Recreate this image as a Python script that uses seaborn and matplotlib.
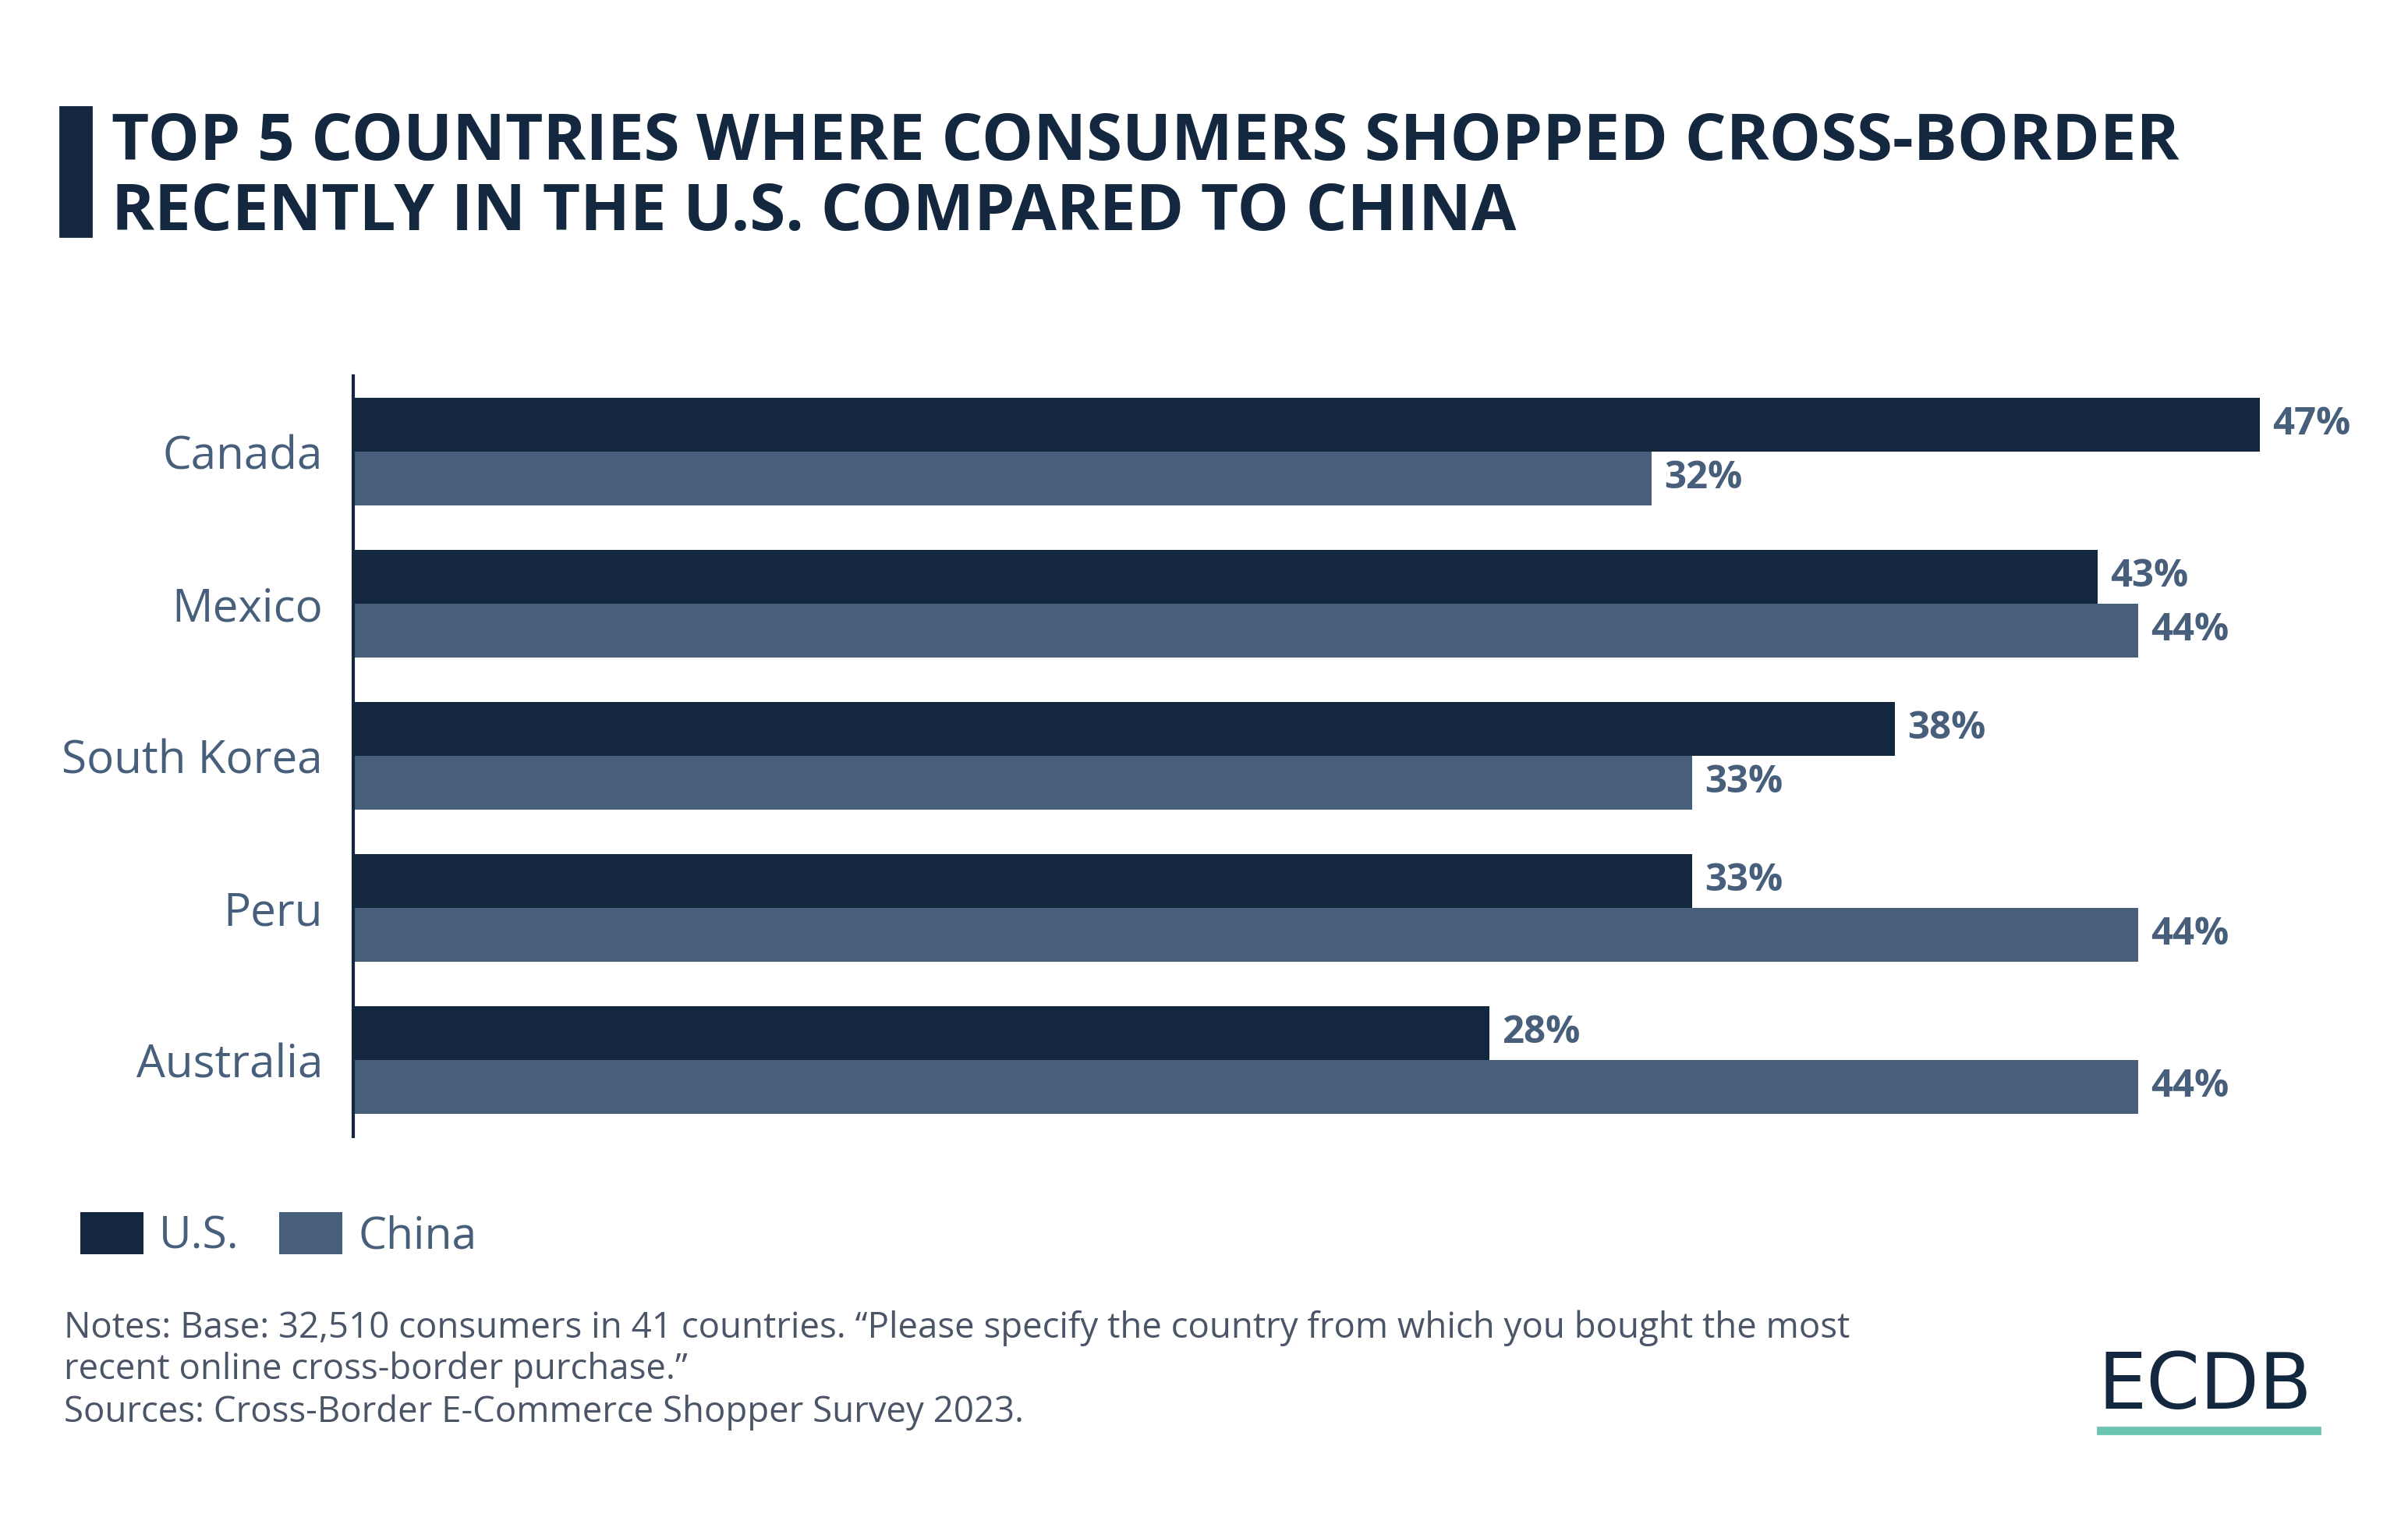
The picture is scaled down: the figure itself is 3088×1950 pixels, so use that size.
import matplotlib
matplotlib.use("Agg")
import matplotlib.pyplot as plt
import seaborn as sns
import pandas as pd
from matplotlib.patches import Rectangle

countries = ["Canada", "Mexico", "South Korea", "Peru", "Australia"]
us_values = [47, 43, 38, 33, 28]
china_values = [32, 44, 33, 44, 44]
series_names = ["U.S.", "China"]

title_lines = ["TOP 5 COUNTRIES WHERE CONSUMERS SHOPPED CROSS-BORDER",
               "RECENTLY IN THE U.S. COMPARED TO CHINA"]
note_lines = ["Notes: Base: 32,510 consumers in 41 countries. \u201cPlease specify the country from which you bought the most",
              "recent online cross-border purchase.\u201d",
              "Sources: Cross-Border E-Commerce Shopper Survey 2023."]

DARK = "#13273f"
MID = "#475f7b"
NOTE = "#4a5568"

df = pd.DataFrame({
    "Country": countries * 2,
    "Market": [series_names[0]] * len(countries) + [series_names[1]] * len(countries),
    "Share": us_values + china_values,
})

sns.set_theme(style="white")
plt.rcParams["font.family"] = ["Open Sans", "DejaVu Sans"]

W, H, DPI = 3088, 1950, 200
fig = plt.figure(figsize=(W / DPI, H / DPI), dpi=DPI)
fig.patch.set_facecolor("white")
ax = fig.add_axes([453 / W, 1 - 1456.5 / H, 2601 / W, 975 / H])

sns.barplot(data=df, y="Country", x="Share", hue="Market", order=countries,
            hue_order=series_names, palette=[DARK, MID], width=0.71,
            saturation=1, orient="h", ax=ax, legend=True, linewidth=0,
            edgecolor="none")

ax.set_xlim(0, 50)
ax.set_ylim(4.5, -0.5)
ax.set_xlabel("")
ax.set_ylabel("")
ax.set_xticks([])
for s in ["top", "right", "bottom"]:
    ax.spines[s].set_visible(False)
ax.spines["left"].set_color(DARK)
ax.spines["left"].set_linewidth(1.5)
ax.tick_params(axis="y", length=0, pad=14, labelsize=21, labelcolor=MID)

for cont in ax.containers:
    ax.bar_label(cont, fmt="%d%%", padding=6, fontsize=17.7,
                 fontweight="bold", color=MID)

handles, labels = ax.get_legend_handles_labels()
ax.get_legend().remove()
fig.legend(handles, labels, loc="center left",
           bbox_to_anchor=(103 / W, 1 - 1584 / H), ncol=2, frameon=False,
           fontsize=20.5, labelcolor=MID, handlelength=1.42, handleheight=1.1,
           handletextpad=0.35, columnspacing=0.91, borderpad=0, borderaxespad=0)

# title
fig.add_artist(Rectangle((77 / W, 1 - 303 / H), 40 / W, 166 / H,
                         transform=fig.transFigure, color=DARK))
fig.text(143 / W, 1 - 205 / H, title_lines[0], fontsize=30, fontweight="bold",
         color=DARK, va="baseline", ha="left")
fig.text(143 / W, 1 - 295 / H, title_lines[1], fontsize=30, fontweight="bold",
         color=DARK, va="baseline", ha="left")

for txt, yb in zip(note_lines, [1715, 1768, 1823]):
    fig.text(82 / W, 1 - yb / H, txt, fontsize=16.45, color=NOTE,
             va="baseline", ha="left")

# logo
fig.text(2690 / W, 1 - 1806 / H, "ECDB", fontsize=35.5, color=DARK,
         family="DejaVu Sans", va="baseline", ha="left")
fig.add_artist(Rectangle((2690 / W, 1 - 1838 / H), 285 / W, 8 / H,
                         transform=fig.transFigure, color="#6cc5b0"))

fig.savefig("out.png", dpi=DPI, facecolor="white")
